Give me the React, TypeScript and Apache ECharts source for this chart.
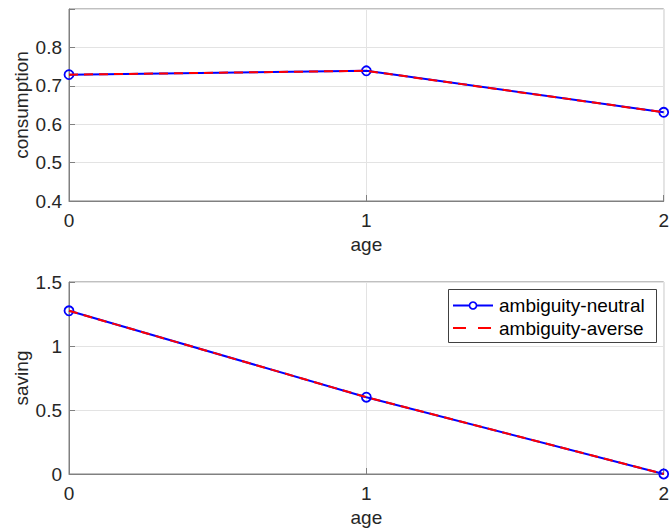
import React, { useEffect, useRef } from "react";
import * as echarts from "echarts";

const ages = [0, 1, 2];
const consumptionNeutral = [0.729, 0.739, 0.631];
const consumptionAverse = [0.729, 0.739, 0.631];
const savingNeutral = [1.275, 0.6, 0.0];
const savingAverse = [1.275, 0.6, 0.0];
const seriesNames = ["ambiguity-neutral", "ambiguity-averse"];

const FONT = "Liberation Sans, Arial, Helvetica, sans-serif";
const FS = 19;
const TXT = "#262626";
const AXIS = "#808080";
const GRID = "#e3e3e3";
const BLUE = "#0000ff";
const RED = "#ff0000";

function pairs(ys: number[]) {
  return ages.map((a, i) => [a, ys[i]]);
}

export default function App() {
  const ref = useRef<HTMLDivElement>(null);
  useEffect(() => {
    document.body.style.margin = "0";
    const chart = echarts.init(ref.current!, null, { renderer: "svg" });
    const xAxisBase = (gridIndex: number) => ({
      gridIndex,
      type: "value",
      min: 0,
      max: 2,
      interval: 1,
      name: "age",
      nameLocation: "middle",
      nameGap: 34,
      nameMoveOverlap: false,
      nameTextStyle: { fontFamily: FONT, fontSize: FS, color: TXT },
      axisLine: { show: true, lineStyle: { color: AXIS, width: 1 } },
      axisTick: { show: true, inside: true, length: 6, lineStyle: { color: AXIS } },
      axisLabel: { fontFamily: FONT, fontSize: FS, color: TXT, margin: 10 },
      splitLine: { show: true, lineStyle: { color: GRID, width: 1 } },
    });
    const yAxisBase = (gridIndex: number, name: string) => ({
      gridIndex,
      type: "value",
      name,
      nameLocation: "middle",
      nameGap: 38,
      nameMoveOverlap: false,
      nameTextStyle: { fontFamily: FONT, fontSize: FS, color: TXT },
      axisLine: { show: true, lineStyle: { color: AXIS, width: 1 } },
      axisTick: { show: true, inside: true, length: 6, lineStyle: { color: AXIS } },
      splitLine: { show: true, lineStyle: { color: GRID, width: 1 } },
    });
    const neutral = (xi: number, ys: number[]) => ({
      name: seriesNames[0],
      type: "line",
      xAxisIndex: xi,
      yAxisIndex: xi,
      data: pairs(ys),
      symbol: "circle",
      symbolSize: 9,
      clip: false,
      z: 2,
      lineStyle: { color: BLUE, width: 2 },
      itemStyle: { color: "rgba(255,255,255,0)", borderColor: BLUE, borderWidth: 1.8 },
    });
    const averse = (xi: number, ys: number[]) => ({
      name: seriesNames[1],
      type: "line",
      xAxisIndex: xi,
      yAxisIndex: xi,
      data: pairs(ys),
      symbol: "none",
      clip: false,
      z: 3,
      lineStyle: { color: RED, width: 2, type: [9, 6] },
      itemStyle: { color: RED },
    });
    const LX = 448, LY = 289, LW = 208, LH = 53;
    const r1 = LY + 16.5, r2 = LY + 39;
    chart.setOption({
      animation: false,
      backgroundColor: "#ffffff",
      grid: [
        { left: 69, top: 9, width: 599, height: 192, show: true, borderColor: AXIS, borderWidth: 1, backgroundColor: "transparent" },
        { left: 69, top: 282, width: 599, height: 192, show: true, borderColor: AXIS, borderWidth: 1, backgroundColor: "transparent" },
      ],
      xAxis: [xAxisBase(0), xAxisBase(1)],
      yAxis: [
        {
          ...yAxisBase(0, "consumption"),
          min: 0.4,
          max: 0.9,
          interval: 0.1,
          axisLabel: {
            fontFamily: FONT,
            fontSize: FS,
            color: TXT,
            margin: 7,
            formatter: (v: number) => (v > 0.85 ? "" : v.toFixed(1)),
          },
        },
        {
          ...yAxisBase(1, "saving"),
          min: 0,
          max: 1.5,
          interval: 0.5,
          axisLabel: { fontFamily: FONT, fontSize: FS, color: TXT, margin: 7 },
        },
      ],
      graphic: [
        {
          type: "group",
          z: 100,
          children: [
            { type: "rect", shape: { x: LX + 0.5, y: LY + 0.5, width: LW, height: LH }, style: { fill: "#ffffff", stroke: "#404040", lineWidth: 1 } },
            { type: "line", shape: { x1: LX + 5, y1: r1, x2: LX + 45, y2: r1 }, style: { stroke: BLUE, lineWidth: 2 } },
            { type: "circle", shape: { cx: LX + 25, cy: r1, r: 3.5 }, style: { fill: "#ffffff", stroke: BLUE, lineWidth: 1.6 } },
            { type: "text", x: LX + 51, y: r1, style: { text: seriesNames[0], fontFamily: FONT, fontSize: FS, fill: "#000000", verticalAlign: "middle", align: "left" } },
            { type: "line", shape: { x1: LX + 5, y1: r2, x2: LX + 43, y2: r2 }, style: { stroke: RED, lineWidth: 2, lineDash: [13, 12] } },
            { type: "text", x: LX + 51, y: r2, style: { text: seriesNames[1], fontFamily: FONT, fontSize: FS, fill: "#000000", verticalAlign: "middle", align: "left" } },
          ],
        },
      ],
      series: [
        neutral(0, consumptionNeutral),
        averse(0, consumptionAverse),
        neutral(1, savingNeutral),
        averse(1, savingAverse),
      ],
    });
    return () => chart.dispose();
  }, []);
  return <div ref={ref} style={{ width: 672, height: 530 }} />;
}
